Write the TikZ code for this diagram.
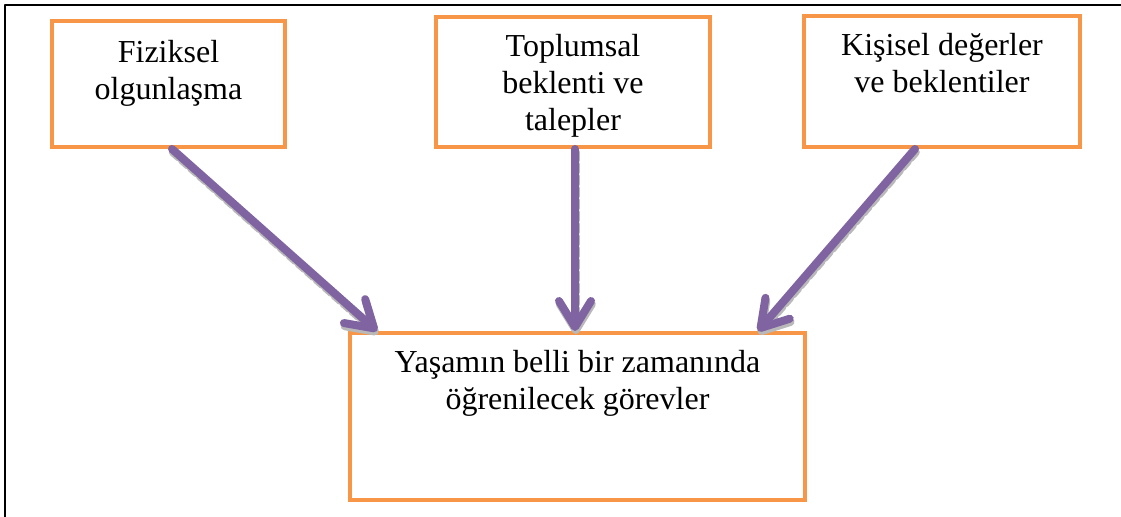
\documentclass[tikz,border=0pt]{standalone}
\usepackage{fontspec}
\setmainfont{Liberation Serif}
\usepackage{tikz}
\usetikzlibrary{arrows.meta}
\definecolor{boxorange}{HTML}{F79646}
\definecolor{arrpurple}{HTML}{8064A2}
\begin{document}
\begin{tikzpicture}[line cap=round,line join=round,x=0.5pt,y=-0.5pt,
  box/.style={draw=boxorange,line width=2pt,line cap=butt,line join=miter,inner sep=0pt},
  lbl/.style={anchor=north,inner sep=0pt,align=center,font=\fontsize{16}{18.5}\selectfont},
  arr/.style={draw=arrpurple,line width=4pt,-{Straight Barb[round,length=13pt,width=16pt]},
    preaction={draw=gray!55,line width=4pt,dotted,transform canvas={shift={(0.4pt,-1.6pt)}}}}]
      \useasboundingbox (0,0) rectangle (1121,517);
      \draw[line width=1pt,line cap=butt] (5,517) -- (5,5) -- (1121,5);
      % boxes
      \node[box,minimum width=116.5pt,minimum height=63pt] (fiz) at (168.5,84) {};
      \node[box,minimum width=137pt,minimum height=65pt] (top) at (573,82) {};
      \node[box,minimum width=138pt,minimum height=65.5pt] (kis) at (942,81.5) {};
      \node[box,minimum width=227.5pt,minimum height=83.5pt] (gor) at (577.5,416.5) {};
      % texts
      \node[lbl] (fiztxt) at ([yshift=-10.3pt]fiz.north) {Fiziksel\\olgunlaşma};
      \node[lbl] (toptxt) at ([yshift=-9.6pt]top.north) {Toplumsal\\beklenti ve\\talepler};
      \node[lbl] (kistxt) at ([yshift=-9.6pt]kis.north) {Kişisel değerler\\ve beklentiler};
      \node[lbl] (gortxt) at ([yshift=-9.3pt]gor.north) {Yaşamın belli bir zamanında\\öğrenilecek görevler};
      % arrows
      \draw[arr] (fiz.south) ++(3.5,0) -- ([xshift=-100.25pt]gor.north);
      \draw[arr] (top.south) ++(2,0) -- ([xshift=-1.25pt]gor.north);
      \draw[arr] (kis.south) ++(-27,0) -- ([xshift=90.25pt]gor.north);
\end{tikzpicture}
\end{document}
